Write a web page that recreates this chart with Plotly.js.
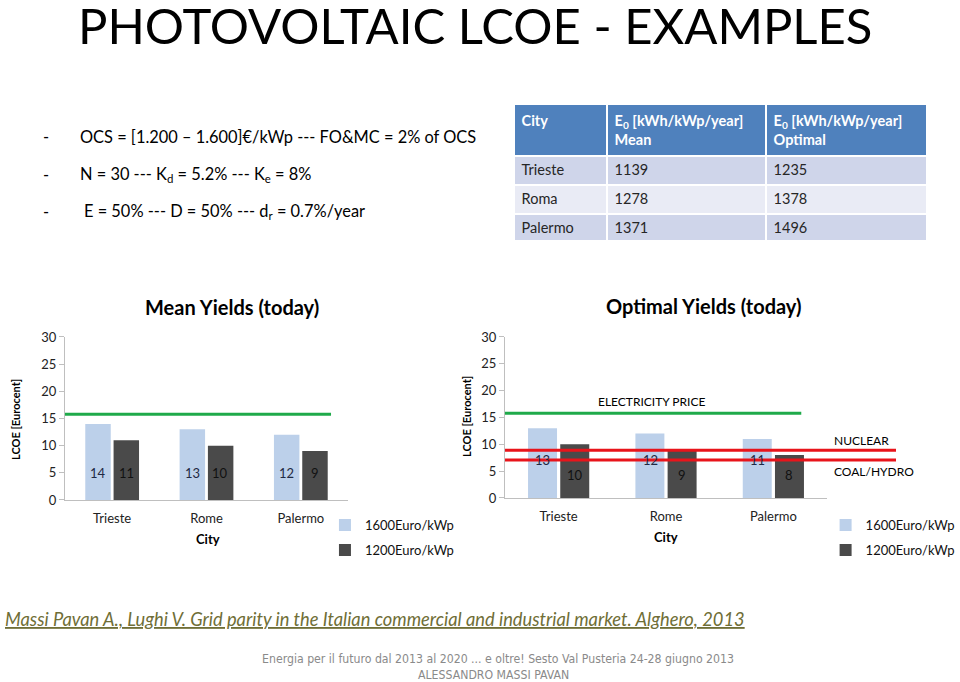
<!DOCTYPE html>
<html>
<head>
<meta charset="utf-8">
<script src="https://cdn.plot.ly/plotly-3.0.1.min.js"></script>
<style>html,body{margin:0;padding:0;background:#fff;}#chart{width:960px;height:682px;}</style>
</head>
<body>
<div id="chart"></div>
<script>
// ---- data ----
var cities = ['Trieste', 'Rome', 'Palermo'];
var meanHigh = [14, 13, 12];      // 1600 Euro/kWp, mean yields
var meanLow = [11, 10, 9];        // 1200 Euro/kWp, mean yields
var optHigh = [13, 12, 11];       // 1600 Euro/kWp, optimal yields
var optLow = [10, 9, 8];          // 1200 Euro/kWp, optimal yields
var seriesNames = ['1600Euro/kWp', '1200Euro/kWp'];
var electricityPrice = 15.8;
var nuclearPrice = 8.9;
var coalHydroPrice = 7.1;
var tableCities = ['Trieste', 'Roma', 'Palermo'];
var tableMean = [1139, 1278, 1371];
var tableOptimal = [1235, 1378, 1496];
var tableHeader = ['<b>City</b>', '<b>E<sub>0</sub> [kWh/kWp/year]<br>Mean</b>', '<b>E<sub>0</sub> [kWh/kWp/year]<br>Optimal</b>'];
var yTicks = [0, 5, 10, 15, 20, 25, 30];

// ---- styles ----
var FONT = 'Lato, "Open Sans", sans-serif';
var lightColor = '#bcd0ea';
var darkColor = '#4a4a4a';
var green = '#1faa4a';
var red = '#e8141b';

var traces = [
  {type: 'bar', x: cities, y: meanHigh, name: seriesNames[0], xaxis: 'x', yaxis: 'y',
   marker: {color: lightColor}, legend: 'legend', legendgroup: 'a', hoverinfo: 'y'},
  {type: 'bar', x: cities, y: meanLow, name: seriesNames[1], xaxis: 'x', yaxis: 'y',
   marker: {color: darkColor}, legend: 'legend', legendgroup: 'b', hoverinfo: 'y'},
  {type: 'bar', x: cities, y: optHigh, name: seriesNames[0], xaxis: 'x2', yaxis: 'y2',
   marker: {color: lightColor}, legend: 'legend2', legendgroup: 'c', hoverinfo: 'y'},
  {type: 'bar', x: cities, y: optLow, name: seriesNames[1], xaxis: 'x2', yaxis: 'y2',
   marker: {color: darkColor}, legend: 'legend2', legendgroup: 'd', hoverinfo: 'y'},
  {type: 'table', domain: {x: [0.535, 0.966], y: [0.647, 0.8475]},
   columnwidth: [93, 159, 161],
   header: {values: tableHeader, align: 'left', height: 49,
            fill: {color: '#4f81bd'}, line: {color: '#ffffff', width: 2},
            font: {family: FONT, size: 14.5, color: '#ffffff'}},
   cells: {values: [tableCities, tableMean, tableOptimal], align: 'left', height: 29,
           fill: {color: [['#cfd5ea', '#e9ebf5', '#cfd5ea'], ['#cfd5ea', '#e9ebf5', '#cfd5ea'], ['#cfd5ea', '#e9ebf5', '#cfd5ea']]},
           line: {color: '#ffffff', width: 2},
           font: {family: FONT, size: 14.5, color: '#262626'}}}
];

function yAxis(domain, anchor) {
  return {domain: domain, anchor: anchor, range: [0, 30], tickvals: yTicks, showgrid: false, zeroline: false,
          showline: true, linecolor: '#bfbfbf', linewidth: 1, ticks: 'outside', ticklen: 5, tickcolor: '#bfbfbf',
          tickfont: {family: FONT, size: 13, color: '#222'}, fixedrange: true};
}
function xAxis(domain, anchor) {
  return {domain: domain, anchor: anchor, showgrid: false, zeroline: false, showline: true,
          linecolor: '#bfbfbf', linewidth: 1, ticks: '', ticklabelstandoff: 6,
          tickfont: {family: FONT, size: 13, color: '#222'}, fixedrange: true};
}

var annotations = [];
function ann(text, x, y, size, opts) {
  var a = {text: text, x: x, y: y, xref: 'paper', yref: 'paper', showarrow: false,
           font: {family: FONT, size: size, color: '#000'}, xanchor: 'left', yanchor: 'middle'};
  for (var k in opts) a[k] = opts[k];
  annotations.push(a);
}
function px(v) { return v / 960; }
function py(v) { return 1 - v / 682; }

// slide title and bullets
ann('PHOTOVOLTAIC LCOE - EXAMPLES', px(76), py(25), 49, {});
ann('-', px(41), py(136), 16.4, {});
ann('OCS = [1.200 \u2013 1.600]\u20ac/kWp --- FO&MC = 2% of OCS', px(78), py(136), 16.4, {});
ann('-', px(41), py(174), 16.4, {});
ann('N = 30 --- K<sub>d</sub> = 5.2% --- K<sub>e</sub> = 8%', px(78), py(174), 16.4, {});
ann('-', px(41), py(212), 16.4, {});
ann('E = 50% --- D = 50% --- d<sub>r</sub> = 0.7%/year', px(82), py(212), 16.4, {});

// chart titles
ann('<b>Mean Yields (today)</b>', px(232), py(307), 20, {xanchor: 'center'});
ann('<b>Optimal Yields (today)</b>', px(703), py(306), 20, {xanchor: 'center'});
// axis titles
ann('<b>LCOE [Eurocent]</b>', px(15), py(420), 11, {xanchor: 'center', textangle: -90});
ann('<b>LCOE [Eurocent]</b>', px(466), py(417), 11, {xanchor: 'center', textangle: -90});
ann('<b>City</b>', px(208), py(539), 13, {xanchor: 'center'});
ann('<b>City</b>', px(666), py(537), 13, {xanchor: 'center'});
// reference lines labels
ann('ELECTRICITY PRICE', px(651), py(401), 12, {xanchor: 'center'});
ann('NUCLEAR', px(832), py(440), 12, {});
ann('COAL/HYDRO', px(832), py(471), 12, {});

// bar value labels
for (var i = 0; i < cities.length; i++) {
  annotations.push({text: String(meanHigh[i]), x: cities[i], y: 5, xref: 'x', yref: 'y', xshift: -14, showarrow: false,
                    font: {family: FONT, size: 13, color: '#1f2a44'}});
  annotations.push({text: String(meanLow[i]), x: cities[i], y: 5, xref: 'x', yref: 'y', xshift: 14, showarrow: false,
                    font: {family: FONT, size: 13, color: '#111'}});
  annotations.push({text: String(optHigh[i]), x: cities[i], y: 7.1, xref: 'x2', yref: 'y2', xshift: -16, showarrow: false,
                    font: {family: FONT, size: 13, color: '#1f2a44'}});
  annotations.push({text: String(optLow[i]), x: cities[i], y: 4.3, xref: 'x2', yref: 'y2', xshift: 16, showarrow: false,
                    font: {family: FONT, size: 13, color: '#111'}});
}

// citation & footer
ann('<i><u>Massi Pavan A., Lughi V. Grid parity in the Italian commercial and industrial market. Alghero, 2013</u></i>',
    px(3), py(619), 18.3, {font: {family: FONT, size: 18.3, color: '#6f6e36'}});
ann('Energia per il futuro dal 2013 al 2020 ... e oltre! Sesto Val Pusteria 24-28 giugno 2013', px(498), py(659), 12.2,
    {xanchor: 'center', font: {family: '"Liberation Sans Narrow", "DejaVu Sans Condensed", sans-serif', size: 12.2, color: '#8a8a8a'}});
ann('ALESSANDRO MASSI PAVAN', px(494), py(675), 12.2,
    {xanchor: 'center', font: {family: '"Liberation Sans Narrow", "DejaVu Sans Condensed", sans-serif', size: 12.2, color: '#8a8a8a'}});

var shapes = [
  {type: 'line', xref: 'x domain', yref: 'y', x0: 0, x1: 0.94, y0: electricityPrice, y1: electricityPrice,
   line: {color: green, width: 3}},
  {type: 'line', xref: 'x2 domain', yref: 'y2', x0: 0, x1: 0.92, y0: electricityPrice, y1: electricityPrice,
   line: {color: green, width: 3}},
  {type: 'line', xref: 'paper', yref: 'y2', x0: px(505), x1: px(896), y0: nuclearPrice, y1: nuclearPrice,
   line: {color: red, width: 3}},
  {type: 'line', xref: 'paper', yref: 'y2', x0: px(505), x1: px(896), y0: coalHydroPrice, y1: coalHydroPrice,
   line: {color: red, width: 3}}
];

var layout = {
  width: 960, height: 682, margin: {l: 0, r: 0, t: 0, b: 0},
  paper_bgcolor: '#ffffff', plot_bgcolor: 'rgba(0,0,0,0)',
  font: {family: FONT, color: '#000'},
  barmode: 'group', bargap: 0.4, bargroupgap: 0.1,
  xaxis: xAxis([0.0677, 0.3625], 'y'),
  yaxis: yAxis([0.2669, 0.5059], 'x'),
  xaxis2: xAxis([0.526, 0.8615], 'y2'),
  yaxis2: yAxis([0.2698, 0.5059], 'x2'),
  legend: {x: 0.3385, y: 0.252, xanchor: 'left', yanchor: 'top', bgcolor: 'rgba(0,0,0,0)',
           font: {family: FONT, size: 13, color: '#111'}, tracegroupgap: 5, itemwidth: 30},
  legend2: {x: 0.860, y: 0.252, xanchor: 'left', yanchor: 'top', bgcolor: 'rgba(0,0,0,0)',
            font: {family: FONT, size: 13, color: '#111'}, tracegroupgap: 5, itemwidth: 30},
  shapes: shapes,
  annotations: annotations,
  showlegend: true
};

Plotly.newPlot('chart', traces, layout, {displayModeBar: false, staticPlot: true});
</script>
</body>
</html>
